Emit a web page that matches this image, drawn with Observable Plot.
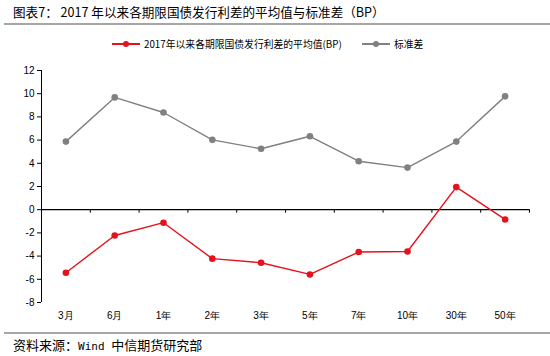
<!DOCTYPE html>
<html><head><meta charset="utf-8">
<script src="https://cdn.jsdelivr.net/npm/d3@7"></script>
<script src="https://cdn.jsdelivr.net/npm/@observablehq/plot@0.6"></script>
<style>
html,body{margin:0;padding:0;background:#fff;}
#root{position:relative;width:550px;height:356px;overflow:hidden;font-family:"Noto Sans CJK SC","DejaVu Sans",sans-serif;color:#000;}
#title{position:absolute;left:13px;top:3px;font-size:12.6px;line-height:18px;white-space:nowrap;}
#bar1{position:absolute;left:4px;right:0;top:23px;height:2px;background:#a6a6a6;}
#legend{position:absolute;left:0;top:36px;width:550px;height:16px;font-size:9.8px;line-height:16px;white-space:nowrap;}
.lg{position:absolute;top:0;display:flex;align-items:center;}
.sw{position:relative;width:28px;height:16px;margin-right:4px;}
.sw .ln{position:absolute;left:0;right:0;top:7px;height:2px;}
.sw .dt{position:absolute;left:11px;top:5px;width:6px;height:6px;border-radius:50%;}
#chart{position:absolute;left:0;top:58px;}
#bar2{position:absolute;left:4px;right:0;top:332px;height:2px;background:#a6a6a6;}
#source{position:absolute;left:13px;top:336px;font-size:13px;line-height:17px;white-space:pre;}
#source .m{font-family:"DejaVu Sans Mono",monospace;font-size:11px;}
</style></head>
<body><div id="root">
<div id="title">图表7： 2017 年以来各期限国债发行利差的平均值与标准差（BP）</div>
<div id="bar1"></div>
<div id="legend"></div>
<div id="chart"></div>
<div id="bar2"></div>
<div id="source">资料来源：<span class="m">Wind </span>中信期货研究部</div>
</div>
<script>
const categories = ["3月","6月","1年","2年","3年","5年","7年","10年","30年","50年"];
const meanValues = [-5.43,-2.22,-1.12,-4.22,-4.57,-5.58,-3.65,-3.6,1.95,-0.84];
const stdValues = [5.87,9.68,8.38,6.02,5.25,6.33,4.18,3.63,5.87,9.77];
const seriesNames = ["2017年以来各期限国债发行利差的平均值(BP)","标准差"];
const seriesColors = ["#e3121c","#808080"];
const yTicks = [-8,-6,-4,-2,0,2,4,6,8,10,12];

const rows = [];
categories.forEach((c,i)=>{
  rows.push({i, cat:c, s:seriesNames[0], v:meanValues[i]});
  rows.push({i, cat:c, s:seriesNames[1], v:stdValues[i]});
});
const idx = categories.map((c,i)=>i);
const bounds = idx.map(i=>i+0.5);

const plot = Plot.plot({
  width: 550, height: 270,
  marginLeft: 41, marginRight: 21, marginTop: 12, marginBottom: 26,
  style: {fontSize: "10px", fontFamily: "Liberation Sans, Arial, sans-serif", color: "#000", background: "#fff"},
  x: {domain: [-0.5, categories.length - 0.5], ticks: idx, tickFormat: i => categories[i], tickSize: 0, tickPadding: 9, label: null},
  y: {domain: [-8, 12], ticks: yTicks, tickSize: 4, tickPadding: 3, label: null, tickFormat: d => String(d)},
  color: {domain: seriesNames, range: seriesColors},
  marks: [
    Plot.ruleX([-0.5], {stroke: "#000", strokeWidth: 1}),
    Plot.ruleY([0], {stroke: "#000", strokeWidth: 1.3}),
    Plot.ruleX(bounds, {x: d => d, y1: 0, y2: -0.3, stroke: "#000", strokeWidth: 1}),
    Plot.line(rows, {x: "i", y: "v", z: "s", stroke: "s", strokeWidth: 1.4}),
    Plot.dot(rows, {x: "i", y: "v", fill: "s", r: 3.3, stroke: "none"})
  ]
});
document.getElementById("chart").appendChild(plot);

const legend = document.getElementById("legend");
const lefts = [112, 362];
seriesNames.forEach((n,k)=>{
  const d = document.createElement("div");
  d.className = "lg"; d.style.left = lefts[k] + "px";
  d.innerHTML = `<div class="sw"><div class="ln" style="background:${seriesColors[k]}"></div><div class="dt" style="background:${seriesColors[k]}"></div></div><span>${n}</span>`;
  legend.appendChild(d);
});
</script>
</body></html>
